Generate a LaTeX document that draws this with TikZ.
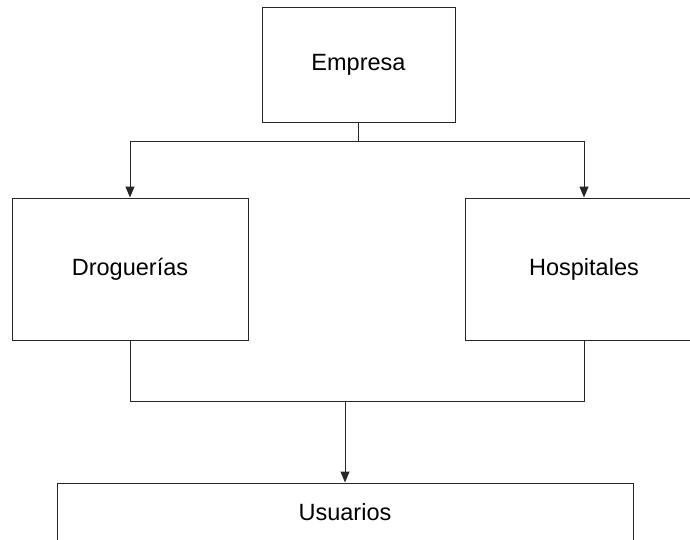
\documentclass[tikz,border=0pt]{standalone}
\usepackage{fontspec}
\setmainfont{Liberation Sans}
\usetikzlibrary{arrows.meta}
\begin{document}
\begin{tikzpicture}[x=1pt,y=-1pt,
  boxst/.style={draw=black!85, line width=1pt, fill=white, inner sep=0pt, font=\fontsize{23.5}{27}\selectfont},
  conn/.style={draw=black!85, line width=1pt},
  arr/.style={conn, -{Triangle[length=11pt,width=9pt]}}]
\useasboundingbox (0,0) rectangle (690,539);
\clip (0,0) rectangle (690,539);
\node[boxst, minimum width=193pt, minimum height=115pt] (emp) at (358.5,65) {Empresa};
\node[boxst, minimum width=236pt, minimum height=142pt] (dro) at (130,269) {Droguerías};
\node[boxst, minimum width=238pt, minimum height=142pt] (hos) at (584,269) {Hospitales};
\node[boxst, minimum width=576pt, minimum height=58pt] (usu) at (345,512) {Usuarios};
\coordinate (j1) at (358.5,141);
\coordinate (j2) at (345,401);
\draw[conn] (emp.south) -- (j1);
\draw[arr] (j1) -| (dro.north);
\draw[arr] (j1) -| (hos.north);
\draw[conn] (dro.south) |- (j2);
\draw[conn] (hos.south) |- (j2);
\draw[arr] (j2) -- (usu.north);
\end{tikzpicture}
\end{document}
